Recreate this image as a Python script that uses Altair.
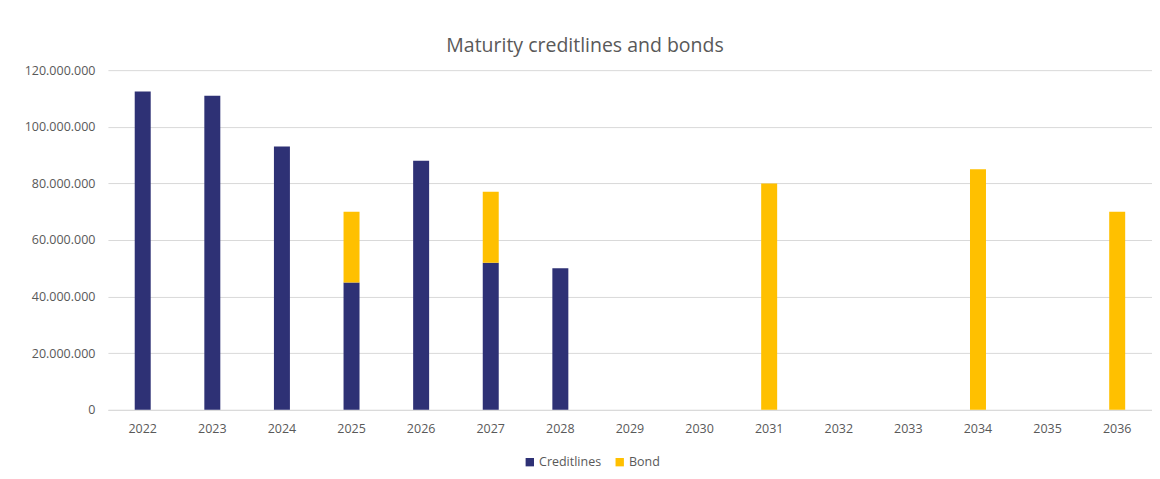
import altair as alt
import pandas as pd

years = [str(y) for y in range(2022, 2037)]
creditlines = [112_500_000, 111_000_000, 93_000_000, 45_000_000, 88_000_000, 52_000_000, 50_000_000,
               0, 0, 0, 0, 0, 0, 0, 0]
bond = [0, 0, 0, 25_000_000, 0, 25_000_000, 0, 0, 0, 80_000_000, 0, 0, 85_000_000, 0, 70_000_000]
series = ["Creditlines", "Bond"]
colors = ["#2E3175", "#FFC000"]

rows = []
for i, y in enumerate(years):
    rows.append({"year": y, "series": "Creditlines", "value": creditlines[i], "ord": 0})
    rows.append({"year": y, "series": "Bond", "value": bond[i], "ord": 1})
df = pd.DataFrame(rows)

FONT = "Open Sans"
GREY = "#595959"

chart = alt.Chart(df).mark_bar(size=16).encode(
    x=alt.X("year:N", sort=years, title=None,
            scale=alt.Scale(paddingInner=0, paddingOuter=0),
            axis=alt.Axis(labelAngle=0, ticks=False, domainColor="#D9D9D9", labelPadding=13,
                          labelColor=GREY, labelFontSize=12.5, labelFont=FONT, grid=False)),
    y=alt.Y("value:Q", title=None,
            scale=alt.Scale(domain=[0, 120_000_000], nice=False),
            axis=alt.Axis(values=list(range(0, 120_000_001, 20_000_000)),
                          labelExpr="replace(format(datum.value, ','), /,/g, '.')",
                          ticks=False, domain=False, labelPadding=13, labelColor=GREY,
                          labelFontSize=12.5, labelFont=FONT, gridColor="#D9D9D9")),
    color=alt.Color("series:N", scale=alt.Scale(domain=series, range=colors),
                    legend=alt.Legend(title=None, orient="none", direction="horizontal",
                                      legendX=416, legendY=386, symbolType="square",
                                      symbolSize=70, symbolStrokeWidth=0, labelFontSize=12.5,
                                      labelFont=FONT, labelColor=GREY, columnPadding=12,
                                      labelOffset=3)),
    order=alt.Order("ord:Q", sort="ascending"),
).properties(
    width=1045,
    height=340,
    title=alt.TitleParams("Maturity creditlines and bonds", fontSize=19.5, font=FONT,
                          fontWeight="normal", color=GREY, anchor="middle", dx=-45, offset=8),
    autosize=alt.AutoSizeParams(type="none"),
    padding={"left": 100, "top": 62, "right": 0, "bottom": 60},
).configure_view(stroke=None)

chart.save("out.html", embed_options={"renderer": "svg", "actions": False})
